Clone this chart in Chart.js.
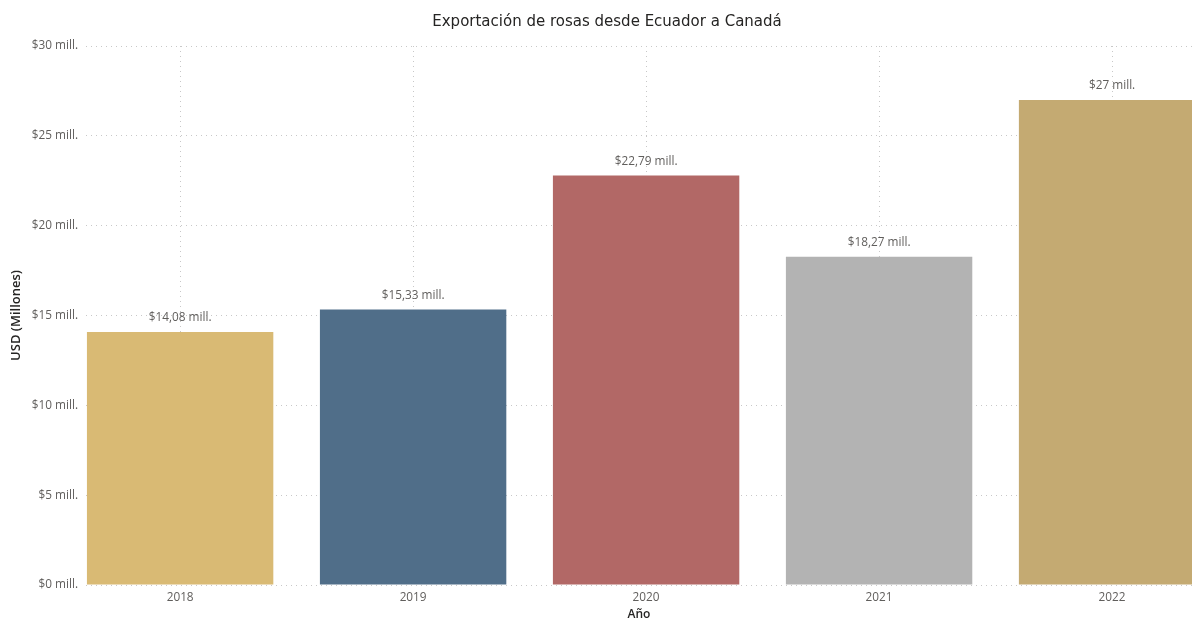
<!DOCTYPE html>
<html>
<head>
    <meta charset="utf-8">
    <title>Exportación de rosas desde Ecuador a Canadá</title>
    <script src="https://cdn.jsdelivr.net/npm/chart.js"></script>
    <style>
        html, body {
            margin: 0;
            padding: 0;
            background: #fff;
            overflow: hidden;
        }
        #wrap {
            width: 1192px;
            height: 622px;
            position: relative;
        }
    </style>
</head>
<body>
<div id="wrap">
    <canvas id="rosasChart" width="1192" height="622"></canvas>
</div>
<script>
    // Datos: exportación anual en millones de USD
    var years = [2018, 2019, 2020, 2021, 2022];
    var usdMillions = [14.08, 15.33, 22.79, 18.27, 27];
    var barColors = ['#D9BA74', '#506E89', '#B26866', '#B3B3B3', '#C4AA72'];
    var yTicks = [0, 5, 10, 15, 20, 25, 30];

    function mill(v) {
        return '$' + String(v).replace('.', ',') + ' mill.';
    }

    var gridDots = {
        color: '#C8C8C8',
        lineWidth: 1,
        drawTicks: false,
        offset: false
    };

    // etiquetas de valor encima de cada barra
    var valueLabels = {
        id: 'valueLabels',
        afterDatasetsDraw: function(chart) {
            var ctx = chart.ctx;
            var meta = chart.getDatasetMeta(0);
            ctx.save();
            ctx.font = '11.8px "Open Sans"';
            ctx.fillStyle = '#605E5C';
            ctx.textAlign = 'center';
            ctx.textBaseline = 'bottom';
            meta.data.forEach(function(bar, i) {
                ctx.fillText(mill(usdMillions[i]), bar.x, bar.y - 8);
            });
            ctx.restore();
        }
    };

    var ctx = document.getElementById('rosasChart').getContext('2d');
    var rosasChart = new Chart(ctx, {
        type: 'bar',
        data: {
            labels: years,
            datasets: [{
                data: usdMillions,
                backgroundColor: barColors,
                borderWidth: 0,
                barPercentage: 0.8,
                categoryPercentage: 1
            }]
        },
        options: {
            responsive: false,
            animation: false,
            layout: {
                padding: { left: 0, right: -22, top: 0, bottom: 0 }
            },
            scales: {
                x: {
                    type: 'linear',
                    offset: false,
                    min: 2017.596,
                    max: 2022.343,
                    grid: gridDots,
                    border: { display: false, dash: [1, 4] },
                    afterFit: function(scale) {
                        scale.height = 37;
                    },
                    ticks: {
                        stepSize: 1,
                        includeBounds: false,
                        padding: 6,
                        color: '#605E5C',
                        font: { family: 'Open Sans', size: 11.8 },
                        callback: function(v) { return String(v); }
                    },
                    title: {
                        display: true,
                        text: 'Año',
                        color: '#252423',
                        font: { family: 'Open Sans', size: 12, weight: '600' },
                        padding: { top: 1, bottom: 0 }
                    }
                },
                y: {
                    min: 0,
                    max: 30,
                    grid: gridDots,
                    border: { display: false, dash: [1, 4] },
                    afterBuildTicks: function(scale) {
                        scale.ticks = yTicks.map(function(v) { return { value: v }; });
                    },
                    afterFit: function(scale) {
                        scale.width = 86;
                    },
                    ticks: {
                        padding: 8,
                        color: '#605E5C',
                        font: { family: 'Open Sans', size: 11.8 },
                        callback: function(v) { return mill(v); }
                    },
                    title: {
                        display: true,
                        text: 'USD (Millones)',
                        color: '#252423',
                        font: { family: 'Open Sans', size: 13, weight: '600' },
                        padding: { top: 8, bottom: 0 }
                    }
                }
            },
            plugins: {
                legend: { display: false },
                tooltip: { enabled: false },
                title: {
                    display: true,
                    text: 'Exportación de rosas desde Ecuador a Canadá',
                    color: '#252423',
                    font: { family: 'DejaVu Sans', size: 15, weight: 'normal' },
                    padding: { top: 13, bottom: 15 }
                }
            }
        },
        plugins: [valueLabels]
    });
</script>
</body>
</html>
